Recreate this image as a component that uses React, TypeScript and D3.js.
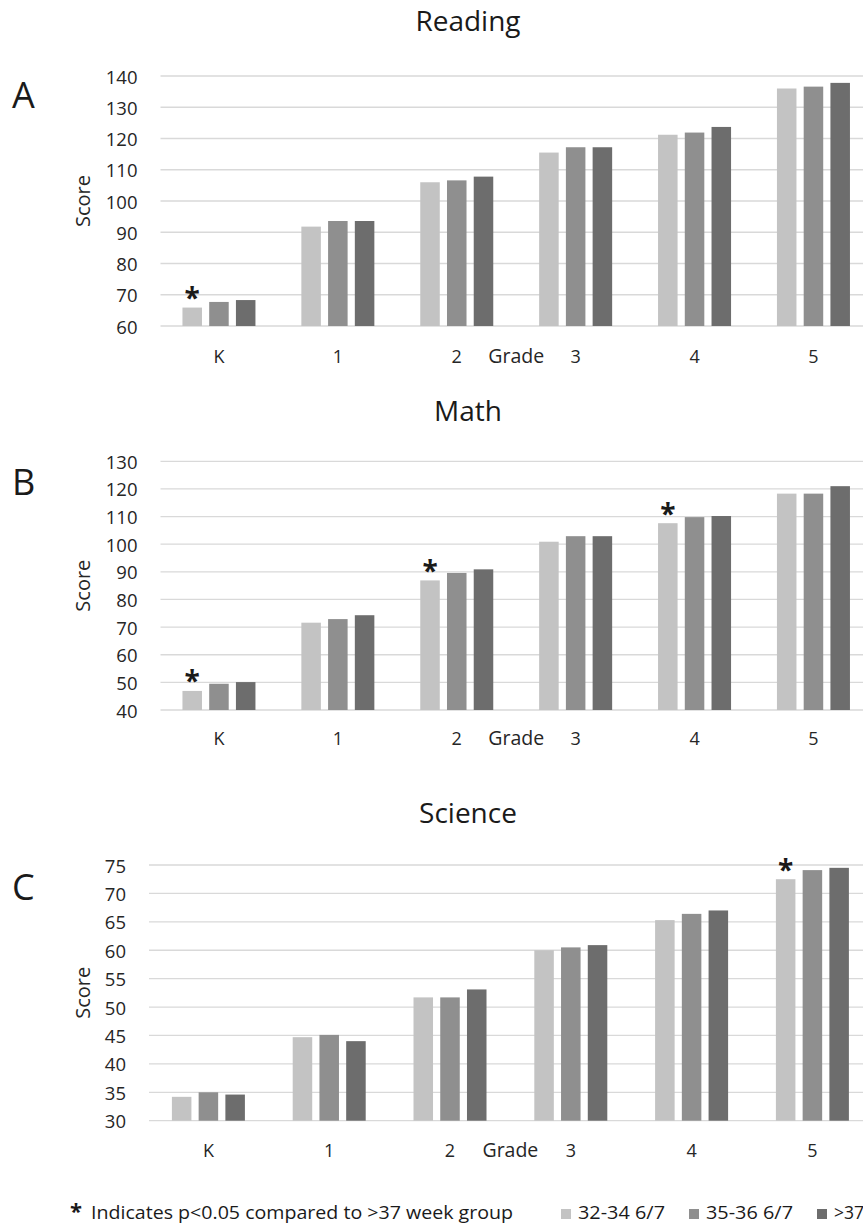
import React from 'react';
import * as d3 from 'd3';

const grades = ['K', '1', '2', '3', '4', '5'];
const seriesNames = ['32-34 6/7', '35-36 6/7', '>37 weeks'];
const seriesColors = ['#c3c3c3', '#8f8f8f', '#6d6d6d'];

const readingLight = [65.9, 91.8, 106.0, 115.5, 121.2, 136.0];
const readingMid = [67.7, 93.6, 106.6, 117.2, 121.9, 136.6];
const readingDark = [68.3, 93.6, 107.8, 117.2, 123.7, 137.8];
const readingSig = ['K'];

const mathLight = [46.9, 71.6, 86.9, 100.9, 107.6, 118.3];
const mathMid = [49.5, 72.9, 89.6, 102.9, 109.8, 118.3];
const mathDark = [50.1, 74.3, 90.9, 102.9, 110.2, 121.0];
const mathSig = ['K', '2', '4'];

const scienceLight = [34.2, 44.7, 51.7, 60.0, 65.3, 72.5];
const scienceMid = [35.0, 45.1, 51.7, 60.5, 66.4, 74.1];
const scienceDark = [34.6, 44.0, 53.1, 60.9, 67.0, 74.5];
const scienceSig = ['5'];

const readingTicks = [60, 70, 80, 90, 100, 110, 120, 130, 140];
const mathTicks = [40, 50, 60, 70, 80, 90, 100, 110, 120, 130];
const scienceTicks = [30, 35, 40, 45, 50, 55, 60, 65, 70, 75];

const legendNote = 'Indicates p<0.05 compared to >37 week group';

const FONT = "'Open Sans', 'Noto Sans', sans-serif";

type PanelProps = {
  letter: string;
  title: string;
  values: number[][];
  sig: string[];
  ticks: number[];
  x0: number;
  step: number;
  yTop: number;
  yBottom: number;
  titleY: number;
  letterY: number;
  labelY: number;
};

function Panel(p: PanelProps) {
  const x = d3
    .scaleBand<string>()
    .domain(grades)
    .range([p.x0, p.x0 + grades.length * p.step])
    .paddingInner(0)
    .paddingOuter(0);
  const inner = d3
    .scaleBand<string>()
    .domain(seriesNames)
    .range([-36.5, 36.5])
    .paddingInner(0.27);
  const y = d3
    .scaleLinear()
    .domain([p.ticks[0], p.ticks[p.ticks.length - 1]])
    .range([p.yBottom, p.yTop]);
  const center = (g: string) => (x(g) as number) + x.bandwidth() / 2;
  const midIdx = 2;
  const gradeMid = (center(grades[midIdx]) + center(grades[midIdx + 1])) / 2;

  return (
    <g>
      <text x={468} y={p.titleY} textAnchor="middle" fontSize={28} fill="#1a1a1a" fontFamily={FONT}>
        {p.title}
      </text>
      <text x={12} y={p.letterY} fontSize={36} fill="#1a1a1a" fontFamily={FONT}>
        {p.letter}
      </text>
      {p.ticks.map((t) => (
        <g key={t}>
          <line x1={p.x0 + 1} x2={900} y1={y(t)} y2={y(t)} stroke="#d9d9d9" strokeWidth={1.3} />
          <text
            x={p.x0 - 22}
            y={y(t)}
            textAnchor="end"
            dominantBaseline="central"
            fontSize={18.5}
            fill="#262626"
            fontFamily={FONT}
          >
            {t}
          </text>
        </g>
      ))}
      <text
        transform={`translate(82,${(p.yTop + p.yBottom) / 2}) rotate(-90)`}
        textAnchor="middle"
        dominantBaseline="central"
        fontSize={20}
        fill="#262626"
        fontFamily={FONT}
      >
        Score
      </text>
      {p.values.map((vals, si) =>
        grades.map((g, gi) => {
          const bx = center(g) + (inner(seriesNames[si]) as number);
          const by = y(vals[gi]);
          return (
            <rect
              key={`${si}-${g}`}
              x={bx}
              y={by}
              width={inner.bandwidth()}
              height={p.yBottom - by}
              fill={seriesColors[si]}
            />
          );
        })
      )}
      {p.sig.map((g) => {
        const gi = grades.indexOf(g);
        const bx = center(g) + (inner(seriesNames[0]) as number) + inner.bandwidth() / 2;
        const by = y(p.values[0][gi]);
        return (
          <text
            key={`s-${g}`}
            x={bx}
            y={by - 15 + 15.4}
            textAnchor="middle"
            fontSize={28}
            fontWeight="bold"
            fill="#1a1a1a"
            fontFamily={FONT}
          >
            *
          </text>
        );
      })}
      {grades.map((g) => (
        <text key={`l-${g}`} x={center(g)} y={p.labelY} textAnchor="middle" fontSize={18} fill="#262626" fontFamily={FONT}>
          {g}
        </text>
      ))}
      <text x={gradeMid} y={p.labelY} textAnchor="middle" fontSize={19.5} fill="#262626" fontFamily={FONT}>
        Grade
      </text>
    </g>
  );
}

export default function App() {
  const legendX = [561, 689, 817];
  return (
    <svg
      width={863}
      height={1228}
      style={{ position: 'absolute', left: 0, top: 0, background: '#ffffff' }}
      xmlns="http://www.w3.org/2000/svg"
    >
      <rect x={0} y={0} width={863} height={1228} fill="#ffffff" />
      <Panel
        letter="A"
        title="Reading"
        values={[readingLight, readingMid, readingDark]}
        sig={readingSig}
        ticks={readingTicks}
        x0={159.5}
        step={118.9}
        yTop={76}
        yBottom={326}
        titleY={31}
        letterY={108}
        labelY={363}
      />
      <Panel
        letter="B"
        title="Math"
        values={[mathLight, mathMid, mathDark]}
        sig={mathSig}
        ticks={mathTicks}
        x0={159.5}
        step={118.9}
        yTop={461.3}
        yBottom={710}
        titleY={421}
        letterY={495}
        labelY={745}
      />
      <Panel
        letter="C"
        title="Science"
        values={[scienceLight, scienceMid, scienceDark]}
        sig={scienceSig}
        ticks={scienceTicks}
        x0={148}
        step={120.8}
        yTop={865}
        yBottom={1120.7}
        titleY={823}
        letterY={900}
        labelY={1157}
      />
      <text x={76} y={1219} textAnchor="middle" fontSize={22} fontWeight="bold" fill="#1a1a1a" fontFamily={FONT}>
        *
      </text>
      <text
        x={91}
        y={1219}
        fontSize={17.5}
        fill="#1a1a1a"
        fontFamily={FONT}
        textLength={422}
        lengthAdjust="spacingAndGlyphs"
      >
        {legendNote}
      </text>
      {seriesNames.map((s, i) => (
        <g key={s}>
          <rect x={legendX[i]} y={1209} width={10} height={10} fill={seriesColors[i]} />
          <text
            x={legendX[i] + 17}
            y={1219}
            fontSize={17.5}
            fill="#1a1a1a"
            fontFamily={FONT}
            textLength={i < 2 ? 87 : undefined}
            lengthAdjust="spacingAndGlyphs"
          >
            {s}
          </text>
        </g>
      ))}
    </svg>
  );
}
